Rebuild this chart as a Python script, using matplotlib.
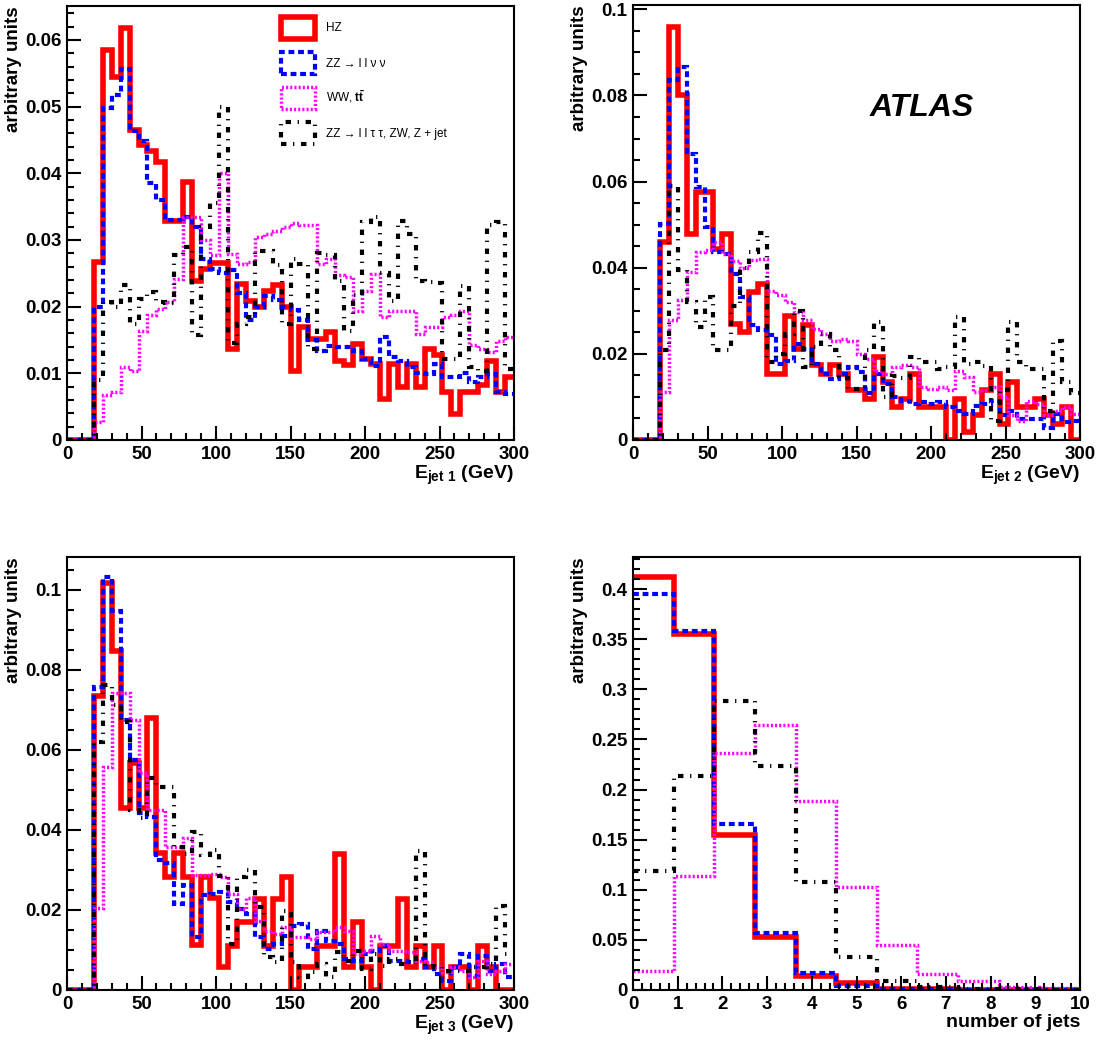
import numpy as np
import matplotlib
matplotlib.use("Agg")
import matplotlib.pyplot as plt
import matplotlib.patches as mpatches
from matplotlib.ticker import MultipleLocator, FuncFormatter

plt.rcParams["font.family"] = ["Liberation Sans", "DejaVu Sans"]
plt.rcParams["font.weight"] = "bold"
plt.rcParams["axes.labelweight"] = "bold"
plt.rcParams["mathtext.fontset"] = "custom"
plt.rcParams["mathtext.rm"] = "Liberation Sans"
plt.rcParams["mathtext.bf"] = "Liberation Sans:bold"
plt.rcParams["mathtext.it"] = "Liberation Sans:italic"

# E_jet bin edges (50 bins of 6 GeV) and jet multiplicity bins (11 bins)
e_edges = np.linspace(0, 300, 51)
n_edges = np.linspace(0, 10, 12)

# ---- E_jet 1 ----
hz1 = [0, 0, 0, 0.0267, 0.0585, 0.0545, 0.0618, 0.0465, 0.0442, 0.0433,
       0.0417, 0.0329, 0.0329, 0.0387, 0.0239, 0.0257, 0.0266, 0.0266, 0.0137, 0.0234,
       0.0209, 0.0199, 0.0224, 0.0233, 0.0199, 0.0104, 0.0169, 0.0152, 0.0152, 0.0162,
       0.0119, 0.0112, 0.0144, 0.0122, 0.0114, 0.0062, 0.0114, 0.0079, 0.0114, 0.0079,
       0.0137, 0.0127, 0.0072, 0.0039, 0.0072, 0.0072, 0.0082, 0.0119, 0.0072, 0.0095]
zz1 = [0, 0, 0, 0.0200, 0.0498, 0.0518, 0.0557, 0.0463, 0.0449, 0.0385,
       0.0360, 0.0330, 0.0330, 0.0334, 0.0319, 0.0272, 0.0257, 0.0250, 0.0255, 0.0221,
       0.0180, 0.0200, 0.0216, 0.0210, 0.0200, 0.0195, 0.0180, 0.0150, 0.0133, 0.0141,
       0.0140, 0.0139, 0.0134, 0.0121, 0.0111, 0.0154, 0.0124, 0.0119, 0.0109, 0.0100,
       0.0099, 0.0114, 0.0094, 0.0095, 0.0101, 0.0087, 0.0094, 0.0099, 0.0072, 0.0069]
ww1 = [0, 0, 0, 0.0027, 0.0068, 0.0072, 0.0109, 0.0104, 0.0164, 0.0187,
       0.0197, 0.0207, 0.0242, 0.0334, 0.0334, 0.0300, 0.0277, 0.0400, 0.0279, 0.0264,
       0.0267, 0.0304, 0.0309, 0.0314, 0.0319, 0.0325, 0.0322, 0.0323, 0.0264, 0.0272,
       0.0247, 0.0244, 0.0194, 0.0224, 0.0249, 0.0184, 0.0194, 0.0194, 0.0194, 0.0159,
       0.0169, 0.0169, 0.0184, 0.0187, 0.0194, 0.0142, 0.0137, 0.0132, 0.0149, 0.0154]
bg1 = [0, 0, 0, 0.0090, 0.0207, 0.0200, 0.0232, 0.0174, 0.0212, 0.0222,
       0.0207, 0.0205, 0.0277, 0.0290, 0.0157, 0.0320, 0.0355, 0.0500, 0.0146, 0.0174,
       0.0184, 0.0284, 0.0284, 0.0262, 0.0174, 0.0272, 0.0264, 0.0137, 0.0280, 0.0277,
       0.0239, 0.0164, 0.0217, 0.0327, 0.0335, 0.0251, 0.0209, 0.0329, 0.0309, 0.0239,
       0.0237, 0.0235, 0.0121, 0.0121, 0.0231, 0.0109, 0.0104, 0.0322, 0.0327, 0.0107]

# ---- E_jet 2 ----
hz2 = [0, 0, 0, 0.0460, 0.0958, 0.0800, 0.0479, 0.0576, 0.0576, 0.0444,
       0.0479, 0.0270, 0.0250, 0.0343, 0.0363, 0.0153, 0.0153, 0.0287, 0.0212, 0.0268,
       0.0173, 0.0153, 0.0173, 0.0153, 0.0116, 0.0116, 0.0095, 0.0192, 0.0134, 0.0076,
       0.0095, 0.0153, 0.0076, 0.0076, 0.0076, 0.0000, 0.0095, 0.0018, 0.0057, 0.0115,
       0.0153, 0.0037, 0.0134, 0.0076, 0.0076, 0.0095, 0.0057, 0.0037, 0.0076, 0.0000]
zz2 = [0, 0, 0, 0.0502, 0.0835, 0.0867, 0.0665, 0.0588, 0.0495, 0.0436,
       0.0433, 0.0386, 0.0332, 0.0266, 0.0256, 0.0243, 0.0177, 0.0184, 0.0223, 0.0212,
       0.0177, 0.0153, 0.0142, 0.0153, 0.0169, 0.0157, 0.0109, 0.0153, 0.0130, 0.0099,
       0.0091, 0.0084, 0.0088, 0.0084, 0.0088, 0.0076, 0.0068, 0.0060, 0.0080, 0.0084,
       0.0091, 0.0057, 0.0068, 0.0049, 0.0049, 0.0049, 0.0029, 0.0060, 0.0041, 0.0045]
ww2 = [0, 0, 0, 0.0111, 0.0278, 0.0324, 0.0390, 0.0436, 0.0440, 0.0460,
       0.0433, 0.0415, 0.0400, 0.0417, 0.0421, 0.0345, 0.0336, 0.0320, 0.0297, 0.0278,
       0.0258, 0.0247, 0.0231, 0.0235, 0.0231, 0.0200, 0.0188, 0.0161, 0.0153, 0.0169,
       0.0173, 0.0169, 0.0122, 0.0119, 0.0122, 0.0115, 0.0161, 0.0146, 0.0111, 0.0115,
       0.0122, 0.0099, 0.0057, 0.0045, 0.0091, 0.0084, 0.0057, 0.0068, 0.0076, 0.0060]
bg2 = [0, 0, 0, 0.0210, 0.0590, 0.0394, 0.0320, 0.0262, 0.0331, 0.0208,
       0.0210, 0.0310, 0.0400, 0.0436, 0.0480, 0.0180, 0.0200, 0.0246, 0.0300, 0.0169,
       0.0215, 0.0246, 0.0208, 0.0145, 0.0118, 0.0118, 0.0208, 0.0274, 0.0099, 0.0149,
       0.0145, 0.0192, 0.0180, 0.0180, 0.0165, 0.0169, 0.0285, 0.0176, 0.0180, 0.0172,
       0.0045, 0.0115, 0.0274, 0.0180, 0.0165, 0.0165, 0.0068, 0.0231, 0.0135, 0.0110]

# ---- E_jet 3 ----
hz3 = [0, 0, 0, 0.0735, 0.1017, 0.0848, 0.0454, 0.0568, 0.0454, 0.0679,
       0.0342, 0.0283, 0.0342, 0.0283, 0.0113, 0.0283, 0.0229, 0.0057, 0.0111, 0.0169,
       0.0169, 0.0228, 0.0111, 0.0228, 0.0282, 0.0000, 0.0057, 0.0057, 0.0111, 0.0111,
       0.0340, 0.0057, 0.0169, 0.0057, 0.0000, 0.0111, 0.0111, 0.0228, 0.0057, 0.0111,
       0.0057, 0.0111, 0.0000, 0.0057, 0.0057, 0.0000, 0.0111, 0.0057, 0.0000, 0.0000]
zz3 = [0, 0, 0, 0.0758, 0.1033, 0.0946, 0.0675, 0.0575, 0.0442, 0.0433,
       0.0325, 0.0317, 0.0215, 0.0262, 0.0133, 0.0237, 0.0240, 0.0244, 0.0219, 0.0203,
       0.0190, 0.0132, 0.0103, 0.0115, 0.0136, 0.0161, 0.0165, 0.0103, 0.0148, 0.0123,
       0.0115, 0.0078, 0.0073, 0.0090, 0.0098, 0.0111, 0.0073, 0.0073, 0.0069, 0.0078,
       0.0057, 0.0040, 0.0023, 0.0057, 0.0090, 0.0036, 0.0086, 0.0048, 0.0065, 0.0032]
ww3 = [0, 0, 0, 0.0204, 0.0558, 0.0742, 0.0742, 0.0675, 0.0542, 0.0450,
       0.0450, 0.0358, 0.0358, 0.0380, 0.0288, 0.0288, 0.0290, 0.0282, 0.0240, 0.0203,
       0.0230, 0.0173, 0.0148, 0.0140, 0.0157, 0.0132, 0.0132, 0.0128, 0.0144, 0.0144,
       0.0157, 0.0148, 0.0090, 0.0098, 0.0136, 0.0115, 0.0098, 0.0098, 0.0094, 0.0073,
       0.0069, 0.0057, 0.0044, 0.0057, 0.0048, 0.0032, 0.0073, 0.0040, 0.0048, 0.0065]
bg3 = [0, 0, 0, 0.0620, 0.0763, 0.0713, 0.0670, 0.0450, 0.0430, 0.0529,
       0.0508, 0.0508, 0.0358, 0.0340, 0.0395, 0.0338, 0.0350, 0.0286, 0.0115, 0.0282,
       0.0300, 0.0207, 0.0082, 0.0069, 0.0198, 0.0069, 0.0032, 0.0044, 0.0065, 0.0032,
       0.0094, 0.0073, 0.0098, 0.0053, 0.0090, 0.0061, 0.0078, 0.0065, 0.0069, 0.0348,
       0.0061, 0.0057, 0.0048, 0.0048, 0.0048, 0.0057, 0.0057, 0.0065, 0.0211, 0.0090]

# ---- number of jets ----
hz4 = [0.412, 0.355, 0.155, 0.0533, 0.0143, 0.0070, 0.0010, 0.0005, 0.0003, 0.0002, 0.0001]
zz4 = [0.395, 0.358, 0.166, 0.0567, 0.0167, 0.0043, 0.0010, 0.0005, 0.0003, 0.0002, 0.0001]
ww4 = [0.0187, 0.114, 0.236, 0.264, 0.189, 0.1027, 0.045, 0.016, 0.0087, 0.0025, 0.002]
bg4 = [0.1187, 0.214, 0.288, 0.2237, 0.1077, 0.0327, 0.0093, 0.0033, 0.0010, 0.0005, 0.0003]

labels = ["HZ", "ZZ \u2192 l l \u03bd \u03bd", r"WW, $\mathrm{t\bar{t}}$",
          "ZZ \u2192 l l \u03c4 \u03c4, ZW, Z + jet"]

# line styles: (colour, width, linestyle)
styles = [
    ("#ff0000", 4.0, "-"),
    ("#0000ff", 3.0, (0, (1.4, 0.9))),
    ("#ff00ff", 2.5, (0, (0.6, 0.6))),
    ("#000000", 3.0, (0, (1.3, 1.6, 0.3, 1.6))),
]

fmt = FuncFormatter(lambda v, p: "%g" % round(v, 4))

fig = plt.figure(figsize=(11.02, 10.41), dpi=100)
W, H = 1102.0, 1041.0


def make_axes(l, t, r, b):
    return fig.add_axes([l / W, 1 - b / H, (r - l) / W, (b - t) / H])


panels = [
    (make_axes(67, 6, 514, 440), e_edges, [hz1, zz1, ww1, bg1], 0.0651,
     0.01, 0.002, 50, 10, r"$\mathbf{E_{jet\ 1}}$ (GeV)"),
    (make_axes(633, 5, 1080, 440), e_edges, [hz2, zz2, ww2, bg2], 0.101,
     0.02, 0.005, 50, 10, r"$\mathbf{E_{jet\ 2}}$ (GeV)"),
    (make_axes(67, 557, 514, 990), e_edges, [hz3, zz3, ww3, bg3], 0.1082,
     0.02, 0.005, 50, 10, r"$\mathbf{E_{jet\ 3}}$ (GeV)"),
    (make_axes(633, 557, 1080, 990), n_edges, [hz4, zz4, ww4, bg4], 0.432,
     0.05, 0.01, 1, 0.2, "number of jets"),
]

for ax, edges, series, ytop, ymaj, ymin, xmaj, xmin, xlab in panels:
    for vals, (c, lw, ls) in zip(series, styles):
        ax.stairs(vals, edges, baseline=None, fill=False, color=c,
                  linewidth=lw, linestyle=ls)
    ax.set_xlim(edges[0], edges[-1])
    ax.set_ylim(0, ytop)
    ax.yaxis.set_major_locator(MultipleLocator(ymaj))
    ax.yaxis.set_minor_locator(MultipleLocator(ymin))
    ax.xaxis.set_major_locator(MultipleLocator(xmaj))
    ax.xaxis.set_minor_locator(MultipleLocator(xmin))
    ax.yaxis.set_major_formatter(fmt)
    ax.xaxis.set_major_formatter(fmt)
    ax.tick_params(which="both", direction="in", top=False, right=False,
                   labelsize=13.5, width=1.5, pad=4)
    ax.tick_params(which="major", length=10)
    ax.tick_params(which="minor", length=5)
    for s in ax.spines.values():
        s.set_linewidth(1.5)
    ax.set_ylabel("arbitrary units", fontsize=13.5, loc="top", labelpad=2)
    ax.set_xlabel(xlab, fontsize=14, loc="right", labelpad=1)

# legend in the first panel
ax1 = panels[0][0]
handles = [mpatches.Rectangle((0, 0), 1, 1, fill=False, edgecolor=c,
                              linewidth=lw, linestyle=ls)
           for c, lw, ls in styles]
ax1.legend(handles, labels, loc="upper left", bbox_to_anchor=(0.478, 0.975),
           frameon=False, borderpad=0, borderaxespad=0,
           prop={"size": 8.5, "weight": "normal"},
           handlelength=2.95, handleheight=2.5, labelspacing=1.1,
           handletextpad=0.9)

# ATLAS label
ax2 = panels[1][0]
ax2.text(0.647, 0.763, "ATLAS", transform=ax2.transAxes, fontsize=23,
         fontweight="bold", fontstyle="italic", ha="center", va="center")

fig.savefig("out.png", dpi=100)
